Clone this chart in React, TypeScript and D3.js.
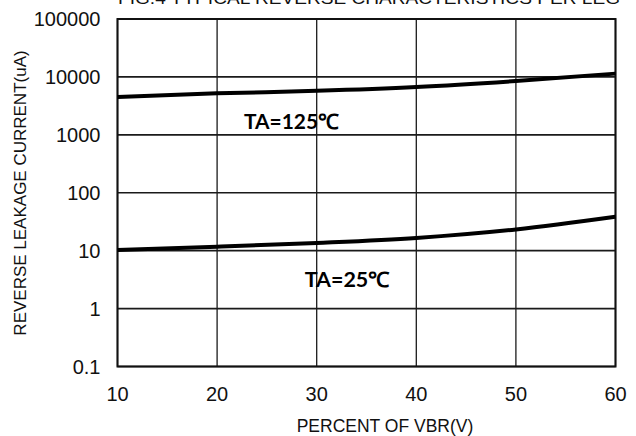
import { useEffect, useRef } from "react";
import * as d3 from "d3";

const percentVbr = [10, 20, 30, 40, 50, 60];
const leakage125 = [4500, 5200, 5750, 6700, 8500, 11400];
const leakage25 = [10.3, 11.7, 13.6, 16.6, 23.3, 38.5];
const yTicks = [0.1, 1, 10, 100, 1000, 10000, 100000];
const yTickLabels = ["0.1", "1", "10", "100", "1000", "10000", "100000"];
const xTicks = [10, 20, 30, 40, 50, 60];

const WIDTH = 636;
const HEIGHT = 436;

export default function App() {
  const svgRef = useRef<SVGSVGElement>(null);

  useEffect(() => {
    if (!svgRef.current) return;
    const svg = d3.select(svgRef.current);
    svg.selectAll("*").remove();

    const margin = { top: 19, right: 20.5, bottom: 69.5, left: 117.5 };
    const innerWidth = WIDTH - margin.left - margin.right;
    const innerHeight = HEIGHT - margin.top - margin.bottom;

    const xScale = d3.scaleLinear().domain([10, 60]).range([0, innerWidth]);
    const yScale = d3.scaleLog().domain([0.1, 100000]).range([innerHeight, 0]);

    const font = "'Liberation Sans', Arial, sans-serif";

    // Title (cut off at the top edge in the original)
    svg
      .append("text")
      .attr("x", 118)
      .attr("y", 4)
      .attr("font-family", font)
      .attr("font-size", 16)
      .attr("fill", "#111")
      .attr("textLength", 502)
      .attr("lengthAdjust", "spacingAndGlyphs")
      .text("FIG.4 TYPICAL REVERSE CHARACTERISTICS PER LEG");

    const g = svg
      .append("g")
      .attr("transform", `translate(${margin.left},${margin.top})`);

    // Grid
    g.append("g")
      .selectAll("line")
      .data(xTicks)
      .join("line")
      .attr("x1", (d) => xScale(d))
      .attr("x2", (d) => xScale(d))
      .attr("y1", 0)
      .attr("y2", innerHeight)
      .attr("stroke", "#1a1a1a")
      .attr("stroke-width", 1.3);

    g.append("g")
      .selectAll("line")
      .data(yTicks)
      .join("line")
      .attr("x1", 0)
      .attr("x2", innerWidth)
      .attr("y1", (d) => yScale(d))
      .attr("y2", (d) => yScale(d))
      .attr("stroke", "#1a1a1a")
      .attr("stroke-width", 1.6);

    // Border
    g.append("rect")
      .attr("x", 0)
      .attr("y", 0)
      .attr("width", innerWidth)
      .attr("height", innerHeight)
      .attr("fill", "none")
      .attr("stroke", "#111")
      .attr("stroke-width", 2);

    // Y tick labels
    g.append("g")
      .selectAll("text")
      .data(yTicks)
      .join("text")
      .attr("x", -17)
      .attr("y", (d) => yScale(d))
      .attr("dy", "0.36em")
      .attr("text-anchor", "end")
      .attr("font-family", font)
      .attr("font-size", 20)
      .attr("fill", "#111")
      .text((d, i) => yTickLabels[i]);

    // X tick labels
    g.append("g")
      .selectAll("text")
      .data(xTicks)
      .join("text")
      .attr("x", (d) => xScale(d))
      .attr("y", innerHeight + 34)
      .attr("text-anchor", "middle")
      .attr("font-family", font)
      .attr("font-size", 20)
      .attr("fill", "#111")
      .text((d) => String(d));

    // Axis titles
    svg
      .append("text")
      .attr("x", 385)
      .attr("y", 432)
      .attr("text-anchor", "middle")
      .attr("font-family", font)
      .attr("font-size", 17.5)
      .attr("fill", "#111")
      .text("PERCENT OF VBR(V)");

    svg
      .append("text")
      .attr("transform", "rotate(-90)")
      .attr("x", -193)
      .attr("y", 26)
      .attr("text-anchor", "middle")
      .attr("font-family", font)
      .attr("font-size", 17)
      .attr("fill", "#111")
      .text("REVERSE LEAKAGE CURRENT(uA)");

    // Curves
    const line = d3
      .line<number>()
      .x((d, i) => xScale(percentVbr[i]))
      .y((d) => yScale(d))
      .curve(d3.curveMonotoneX);

    [leakage125, leakage25].forEach((series) => {
      g.append("path")
        .datum(series)
        .attr("fill", "none")
        .attr("stroke", "#000")
        .attr("stroke-width", 4)
        .attr("d", line);
    });

    // Curve labels
    const labelFont = "Lato, 'Open Sans', sans-serif";
    g.append("text")
      .attr("x", xScale(22.7))
      .attr("y", 128.5 - margin.top)
      .attr("font-family", labelFont)
      .attr("font-weight", "bold")
      .attr("font-size", 21)
      .attr("fill", "#000")
      .attr("textLength", 95)
      .attr("lengthAdjust", "spacingAndGlyphs")
      .text("TA=125℃");

    g.append("text")
      .attr("x", xScale(28.8))
      .attr("y", 286.5 - margin.top)
      .attr("font-family", labelFont)
      .attr("font-weight", "bold")
      .attr("font-size", 21)
      .attr("fill", "#000")
      .attr("textLength", 85)
      .attr("lengthAdjust", "spacingAndGlyphs")
      .text("TA=25℃");
  }, []);

  return (
    <div style={{ position: "absolute", left: 0, top: 0, background: "#fff" }}>
      <svg ref={svgRef} width={WIDTH} height={HEIGHT} style={{ display: "block" }} />
    </div>
  );
}
